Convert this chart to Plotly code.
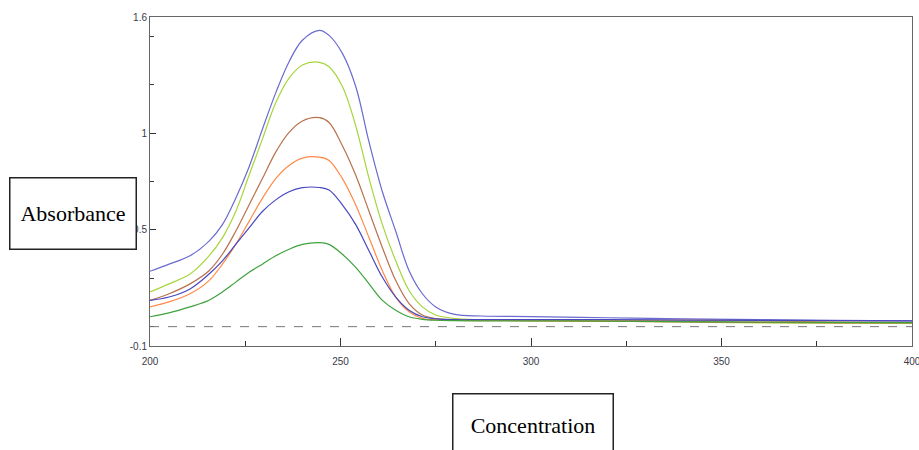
import plotly.graph_objects as go

# Wavelength grid (nm)
wavelength = [200, 205, 210.5, 215.5, 219, 222.5, 226, 229.5, 233, 236.5, 240, 244.5,
              247, 250.5, 254, 257.5, 261, 264.5, 268, 271.5, 275, 280, 287,
              300, 320, 340, 360, 380, 400]

# Absorbance series (top to bottom at the peak)
s_blue_top = [0.286, 0.323, 0.366, 0.442, 0.527, 0.663, 0.825, 1.020, 1.208, 1.369, 1.480, 1.531,
              1.505, 1.412, 1.241, 0.953, 0.697, 0.493, 0.289, 0.170, 0.102, 0.063, 0.055,
              0.052, 0.046, 0.040, 0.036, 0.032, 0.030]
s_yellowgreen = [0.179, 0.221, 0.272, 0.366, 0.459, 0.595, 0.782, 0.969, 1.157, 1.284, 1.352, 1.366,
                 1.343, 1.241, 1.037, 0.765, 0.527, 0.340, 0.187, 0.102, 0.060, 0.042, 0.036,
                 0.033, 0.028, 0.024, 0.020, 0.018, 0.017]
s_brown = [0.136, 0.170, 0.221, 0.289, 0.374, 0.493, 0.629, 0.765, 0.902, 1.004, 1.063, 1.080,
           1.055, 0.935, 0.782, 0.595, 0.408, 0.238, 0.119, 0.060, 0.042, 0.036, 0.033,
           0.031, 0.028, 0.025, 0.022, 0.020, 0.019]
s_orange = [0.102, 0.128, 0.170, 0.238, 0.323, 0.425, 0.544, 0.663, 0.765, 0.833, 0.871, 0.876,
            0.859, 0.765, 0.629, 0.459, 0.289, 0.153, 0.077, 0.042, 0.035, 0.032, 0.031,
            0.030, 0.030, 0.034, 0.030, 0.024, 0.022]
s_blue_low = [0.136, 0.153, 0.195, 0.272, 0.340, 0.425, 0.510, 0.595, 0.655, 0.697, 0.718, 0.719,
              0.706, 0.629, 0.527, 0.391, 0.255, 0.153, 0.085, 0.051, 0.040, 0.036, 0.036,
              0.036, 0.036, 0.034, 0.032, 0.031, 0.030]
s_green = [0.051, 0.071, 0.102, 0.136, 0.179, 0.230, 0.281, 0.323, 0.366, 0.400, 0.425, 0.434,
           0.425, 0.374, 0.306, 0.221, 0.136, 0.085, 0.051, 0.038, 0.033, 0.031, 0.030,
           0.030, 0.029, 0.026, 0.024, 0.022, 0.021]

series = [
    (s_blue_top, "#6a6ad0"),
    (s_yellowgreen, "#a6d63a"),
    (s_brown, "#b8714c"),
    (s_orange, "#ff8a48"),
    (s_blue_low, "#4848c0"),
    (s_green, "#3fa23f"),
]

y_tickvals = [-0.1, 0.5, 1, 1.6]
y_ticktext = ["-0.1", "0.5", "1", "1.6"]
y_minor = [0, 0.25, 0.75, 1.25, 1.5]
x_tickvals = [200, 250, 300, 350, 400]
x_minor = [225, 275, 325, 375]

fig = go.Figure()
for vals, col in series:
    fig.add_trace(go.Scatter(x=wavelength, y=vals, mode="lines",
                             line=dict(color=col, width=1.2, shape="spline", smoothing=1.0),
                             showlegend=False, hoverinfo="skip"))

fig.add_hline(y=0.0, line=dict(color="#777777", width=1, dash="dash"))

tickfont = dict(family="Liberation Sans", size=10, color="#3a3a4a")
fig.update_layout(
    width=919, height=450,
    margin=dict(l=150, r=7, t=17, b=104, autoexpand=False),
    paper_bgcolor="white", plot_bgcolor="white",
    xaxis=dict(range=[200, 400], showgrid=False, zeroline=False, automargin=False,
               showline=True, mirror=True, linecolor="#666666", linewidth=1,
               tickmode="array", tickvals=x_tickvals, ticks="inside", ticklen=8,
               tickcolor="#333333", tickfont=tickfont, ticklabelstandoff=6,
               ticklabeloverflow="allow",
               minor=dict(tickmode="array", tickvals=x_minor, ticks="inside",
                          ticklen=5, tickcolor="#333333")),
    yaxis=dict(range=[-0.1, 1.6], showgrid=False, zeroline=False, automargin=False,
               showline=True, mirror=True, linecolor="#666666", linewidth=1,
               tickmode="array", tickvals=y_tickvals, ticktext=y_ticktext,
               ticks="inside", ticklen=6, tickcolor="#333333", tickfont=tickfont,
               ticklabeloverflow="allow",
               minor=dict(tickmode="array", tickvals=y_minor, ticks="inside",
                          ticklen=4, tickcolor="#333333")),
    annotations=[
        dict(text="Absorbance", xref="paper", yref="paper", x=-0.1017, y=0.404,
             xanchor="center", yanchor="middle", showarrow=False,
             font=dict(family="Liberation Serif", size=22, color="black"),
             bordercolor="#222222", borderwidth=1.5, borderpad=0, bgcolor="white",
             width=125, height=70),
        dict(text="Concentration", xref="paper", yref="paper", x=0.502, y=-0.2403,
             xanchor="center", yanchor="middle", showarrow=False,
             font=dict(family="Liberation Serif", size=22, color="black"),
             bordercolor="#222222", borderwidth=1.5, borderpad=0, bgcolor="white",
             width=159, height=62),
    ],
)

fig.write_html("out.html", config={"displayModeBar": False},
               post_script="document.body.style.margin='0';document.body.style.overflow='hidden';")
